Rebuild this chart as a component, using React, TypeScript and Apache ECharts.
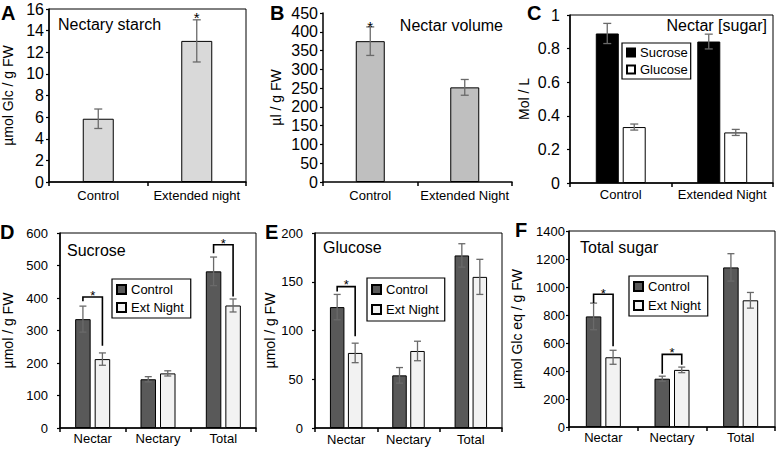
import React, { useEffect, useRef } from 'react';
import * as echarts from 'echarts';

const FONT = 'Liberation Sans, Arial, Helvetica, sans-serif';

// ---- Panel A: Nectary starch
const starchCategories = ['Control', 'Extended night'];
const starchValues = [5.85, 13.05];
const starchErrors = [0.9, 1.95];
const starchStars = [['Extended night', 15.55]];

// ---- Panel B: Nectar volume
const volumeCategories = ['Control', 'Extended Night'];
const volumeValues = [375, 252];
const volumeErrors = [38, 21];
const volumeStars = [['Control', 426]];

// ---- Panel C: Nectar [sugar]
const sugarCategories = ['Control', 'Extended Night'];
const concSucrose = [0.89, 0.842];
const concSucroseErr = [0.06, 0.044];
const concGlucose = [0.333, 0.301];
const concGlucoseErr = [0.018, 0.018];

// ---- Panels D-F
const tissueCategories = ['Nectar', 'Nectary', 'Total'];
const sucroseControl = [335, 150, 482];
const sucroseControlErr = [40, 8, 44];
const sucroseExt = [212, 168, 377];
const sucroseExtErr = [19, 8, 20];
// [category, bracket top, left leg end, right leg end, star]
const sucroseBrackets = [
  ['Nectar', 403, 390, 253, 420],
  ['Total', 564, 538, 405, 581],
];

const glucoseControl = [124, 54, 177];
const glucoseControlErr = [13, 8, 12];
const glucoseExt = [77, 79, 155];
const glucoseExtErr = [10, 10, 18];
const glucoseBrackets = [['Nectar', 145, 140, 94, 151]];

const totalControl = [790, 345, 1140];
const totalControlErr = [95, 18, 98];
const totalExt = [498, 408, 905];
const totalExtErr = [50, 20, 56];
const totalBrackets = [
  ['Nectar', 948, 886, 576, 983],
  ['Nectary', 519, 381, 445, 560],
];

function xAx(gi: number, cats: string[], margin: number) {
  return {
    type: 'category',
    gridIndex: gi,
    data: cats,
    axisLine: { show: true, lineStyle: { color: '#000', width: 1.5 } },
    axisTick: { show: true, length: 4, lineStyle: { color: '#000', width: 1.5 } },
    axisLabel: { color: '#000', fontSize: 13, fontFamily: FONT, margin, interval: 0 },
    splitLine: { show: false },
  };
}

function yAx(gi: number, min: number, max: number, interval: number, name: string, nameGap: number, fontSize: number, margin: number) {
  return {
    type: 'value',
    gridIndex: gi,
    min,
    max,
    interval,
    name,
    nameLocation: 'middle',
    nameGap,
    nameTextStyle: { color: '#000', fontSize: 14, fontFamily: FONT },
    axisLine: { show: true, lineStyle: { color: '#000', width: 1.5 } },
    axisTick: { show: true, length: 3, lineStyle: { color: '#000', width: 1.2 } },
    axisLabel: { color: '#000', fontSize, fontFamily: FONT, margin, formatter: (v: number) => String(v) },
    splitLine: { show: false },
  };
}

function barS(gi: number, name: string, data: number[], color: string, barWidth: number, barGap: string) {
  return {
    type: 'bar',
    name,
    xAxisIndex: gi,
    yAxisIndex: gi,
    data,
    barWidth,
    barGap,
    itemStyle: { color, borderColor: '#000', borderWidth: 1 },
    emphasis: { disabled: true },
  };
}

function errS(gi: number, cats: string[], vals: number[], errs: number[], offset: number, cap: number) {
  return {
    type: 'custom',
    name: 'err' + gi + '_' + offset,
    xAxisIndex: gi,
    yAxisIndex: gi,
    silent: true,
    z: 5,
    data: cats.map((c, i) => [c, vals[i], errs[i]]),
    encode: { x: 0, y: 1 },
    renderItem: (_p: any, api: any) => {
      const ci = api.value(0);
      const v = api.value(1);
      const e = api.value(2);
      const hi = api.coord([ci, v + e]);
      const lo = api.coord([ci, v - e]);
      const x = hi[0] + offset;
      const style = { stroke: '#6a6a6a', lineWidth: 1.3 };
      return {
        type: 'group',
        children: [
          { type: 'line', shape: { x1: x, y1: hi[1], x2: x, y2: lo[1] }, style },
          { type: 'line', shape: { x1: x - cap, y1: hi[1], x2: x + cap, y2: hi[1] }, style },
          { type: 'line', shape: { x1: x - cap, y1: lo[1], x2: x + cap, y2: lo[1] }, style },
        ],
      };
    },
  };
}

function bracketS(gi: number, rows: any[], offset: number) {
  return {
    type: 'custom',
    name: 'bracket' + gi,
    xAxisIndex: gi,
    yAxisIndex: gi,
    silent: true,
    z: 6,
    data: rows,
    encode: { x: 0, y: 1 },
    renderItem: (_p: any, api: any) => {
      const ci = api.value(0);
      const t = api.coord([ci, api.value(1)]);
      const yl = api.coord([ci, api.value(2)])[1];
      const yr = api.coord([ci, api.value(3)])[1];
      const ys = api.coord([ci, api.value(4)])[1];
      const xl = t[0] - offset;
      const xr = t[0] + offset;
      return {
        type: 'group',
        children: [
          {
            type: 'polyline',
            shape: { points: [[xl, yl], [xl, t[1]], [xr, t[1]], [xr, yr]] },
            style: { stroke: '#000', lineWidth: 1.6, fill: 'none' },
          },
          {
            type: 'text',
            x: t[0],
            y: ys + 4,
            style: { text: '*', fontSize: 13, fontFamily: FONT, fill: '#000', align: 'center', verticalAlign: 'middle' },
          },
        ],
      };
    },
  };
}

function starS(gi: number, rows: any[]) {
  return {
    type: 'custom',
    name: 'star' + gi,
    xAxisIndex: gi,
    yAxisIndex: gi,
    silent: true,
    z: 6,
    data: rows,
    encode: { x: 0, y: 1 },
    renderItem: (_p: any, api: any) => {
      const p = api.coord([api.value(0), api.value(1)]);
      return {
        type: 'text',
        x: p[0],
        y: p[1] + 4,
        style: { text: '*', fontSize: 15, fontFamily: FONT, fill: '#000', align: 'center', verticalAlign: 'middle' },
      };
    },
  };
}

function legendBox(left: number, top: number, names: string[], padding: number[], itemGap: number, icon: number) {
  return {
    left,
    top,
    orient: 'vertical',
    data: names,
    icon: 'rect',
    itemWidth: icon,
    itemHeight: icon,
    itemGap,
    padding,
    borderColor: '#000',
    borderWidth: 1.2,
    backgroundColor: '#fff',
    selectedMode: false,
    textStyle: { color: '#000', fontSize: 13, fontFamily: FONT },
  };
}

function titleT(text: string, pos: any, size: number, bold: boolean) {
  return {
    text,
    ...pos,
    padding: 0,
    textStyle: { color: '#000', fontSize: size, fontWeight: bold ? 'bold' : 'normal', fontFamily: FONT },
  };
}

function buildOption() {
  const grids = [
    { left: 49, top: 9, width: 197, height: 173, show: true, borderColor: '#000', borderWidth: 1 },
    { left: 323, top: 13, width: 189, height: 169, show: false },
    { left: 570, top: 15, width: 203, height: 168, show: true, borderColor: '#000', borderWidth: 1 },
    { left: 55, top: 233, width: 201, height: 195, show: true, borderColor: '#000', borderWidth: 1 },
    { left: 315, top: 233, width: 187, height: 195, show: true, borderColor: '#000', borderWidth: 1 },
    { left: 569, top: 231, width: 206, height: 196, show: true, borderColor: '#000', borderWidth: 1 },
  ];

  const xAxis = [
    xAx(0, starchCategories, 7),
    xAx(1, volumeCategories, 7),
    xAx(2, sugarCategories, 5),
    xAx(3, tissueCategories, 4),
    xAx(4, tissueCategories, 5),
    xAx(5, tissueCategories, 4),
  ];
  const yAxis = [
    yAx(0, 0, 16, 2, 'µmol Glc / g FW', 34, 16, 5),
    yAx(1, 0, 450, 50, 'µl / g FW', 40, 16, 5),
    yAx(2, 0, 1, 0.2, 'Mol / L', 39, 16, 10),
    yAx(3, 0, 600, 100, 'µmol / g FW', 45, 13, 12),
    yAx(4, 0, 200, 50, 'µmol / g FW', 35, 13, 12),
    yAx(5, 0, 1400, 200, 'µmol Glc eq / g FW', 45, 13, 4),
  ];

  const cOff = 13.5;
  const dOff = 9.75;
  const eOff = 9;
  const fOff = 9.75;

  const series: any[] = [
    barS(0, 'Starch', starchValues, '#d9d9d9', 31, '0%'),
    errS(0, starchCategories, starchValues, starchErrors, 0, 4),
    starS(0, starchStars),

    barS(1, 'Volume', volumeValues, '#bfbfbf', 29, '0%'),
    errS(1, volumeCategories, volumeValues, volumeErrors, 0, 4),
    starS(1, volumeStars),

    barS(2, 'Sucrose', concSucrose, '#000000', 23, '17%'),
    barS(2, 'Glucose', concGlucose, '#ffffff', 23, '17%'),
    errS(2, sugarCategories, concSucrose, concSucroseErr, -cOff, 4),
    errS(2, sugarCategories, concGlucose, concGlucoseErr, cOff, 4),

    barS(3, 'Control', sucroseControl, '#595959', 15.5, '26%'),
    barS(3, 'Ext Night', sucroseExt, '#f2f2f2', 15.5, '26%'),
    errS(3, tissueCategories, sucroseControl, sucroseControlErr, -dOff, 3.5),
    errS(3, tissueCategories, sucroseExt, sucroseExtErr, dOff, 3.5),
    bracketS(3, sucroseBrackets, dOff),

    barS(4, 'Control', glucoseControl, '#595959', 14.5, '24%'),
    barS(4, 'Ext Night', glucoseExt, '#f2f2f2', 14.5, '24%'),
    errS(4, tissueCategories, glucoseControl, glucoseControlErr, -eOff, 3.5),
    errS(4, tissueCategories, glucoseExt, glucoseExtErr, eOff, 3.5),
    bracketS(4, glucoseBrackets, eOff),

    barS(5, 'Control', totalControl, '#595959', 15.5, '26%'),
    barS(5, 'Ext Night', totalExt, '#f2f2f2', 15.5, '26%'),
    errS(5, tissueCategories, totalControl, totalControlErr, -fOff, 3.5),
    errS(5, tissueCategories, totalExt, totalExtErr, fOff, 3.5),
    bracketS(5, totalBrackets, fOff),
  ];

  const title = [
    titleT('A', { left: 1, top: 3 }, 20, true),
    titleT('B', { left: 270, top: 3 }, 20, true),
    titleT('C', { left: 527, top: 3 }, 20, true),
    titleT('D', { left: 0, top: 222 }, 20, true),
    titleT('E', { left: 265, top: 222 }, 20, true),
    titleT('F', { left: 515, top: 220 }, 20, true),
    titleT('Nectary starch', { left: 58, top: 16 }, 16, false),
    titleT('Nectar volume', { right: 273, top: 17 }, 16, false),
    titleT('Nectar [sugar]', { right: 9, top: 17 }, 16, false),
    titleT('Sucrose', { left: 67, top: 242 }, 16, false),
    titleT('Glucose', { left: 323, top: 239 }, 16, false),
    titleT('Total sugar', { left: 580, top: 239 }, 16, false),
  ];

  const legend = [
    legendBox(622, 43, ['Sucrose', 'Glucose'], [3, 3, 3, 4], 4, 8),
    legendBox(112, 279, ['Control', 'Ext Night'], [4, 7, 4, 4], 5, 9),
    legendBox(367, 278, ['Control', 'Ext Night'], [5, 6, 5, 4], 7, 9),
    legendBox(629, 276, ['Control', 'Ext Night'], [4, 7, 4, 4], 6, 9),
  ];

  return {
    animation: false,
    backgroundColor: '#fff',
    textStyle: { fontFamily: FONT },
    title,
    legend,
    grid: grids,
    xAxis,
    yAxis,
    series,
  };
}

export default function App() {
  const ref = useRef<HTMLDivElement>(null);
  useEffect(() => {
    const chart = echarts.init(ref.current as HTMLDivElement, null, { renderer: 'svg' });
    chart.setOption(buildOption() as any);
    return () => chart.dispose();
  }, []);
  return (
    <div
      ref={ref}
      style={{ position: 'fixed', left: 0, top: 0, width: 776, height: 450, background: '#fff' }}
    />
  );
}
